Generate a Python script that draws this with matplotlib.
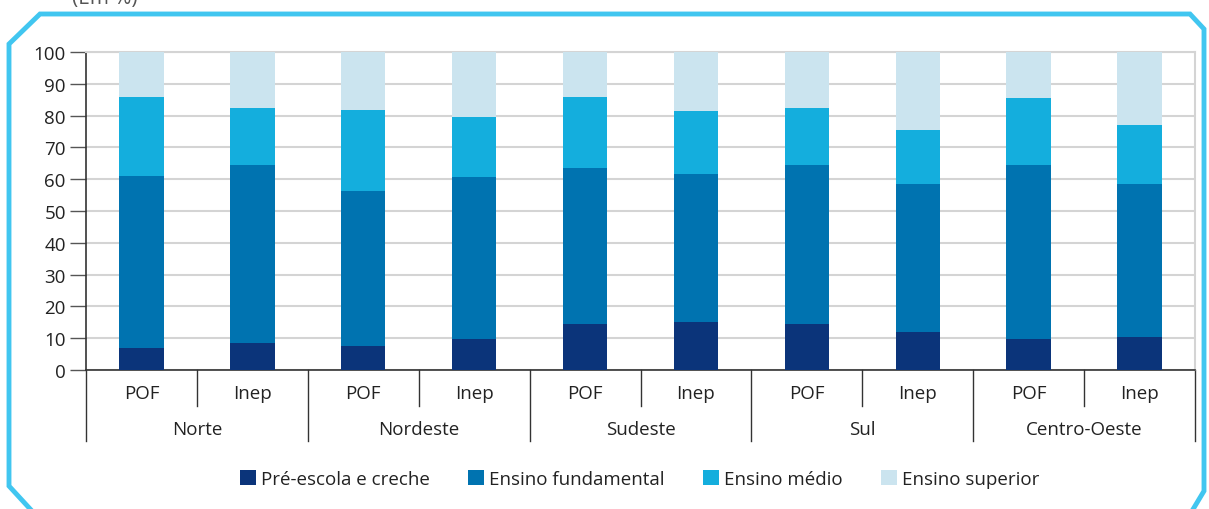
import matplotlib.pyplot as plt
import matplotlib.transforms as mtransforms
from matplotlib.lines import Line2D
from matplotlib.patches import Patch
import numpy as np

plt.rcParams['font.family'] = ['Open Sans', 'DejaVu Sans']

regions = ['Norte', 'Nordeste', 'Sudeste', 'Sul', 'Centro-Oeste']
sources = ['POF', 'Inep']
series = ['Pré-escola e creche', 'Ensino fundamental', 'Ensino médio', 'Ensino superior']

# order: Norte POF, Norte Inep, Nordeste POF, ... (em %)
pre_escola = [7.0, 8.4, 7.6, 9.7, 14.4, 15.0, 14.5, 11.9, 9.9, 10.3]
fundamental = [54.0, 56.0, 48.6, 50.9, 49.2, 46.7, 50.1, 46.5, 54.6, 48.2]
medio = [25.0, 17.9, 25.5, 19.1, 22.1, 19.7, 17.7, 17.0, 20.9, 18.7]
superior = [14.0, 17.7, 18.3, 20.3, 14.3, 18.6, 17.7, 24.6, 14.6, 22.8]

colors = ['#0b347a', '#0073b0', '#14aedd', '#cbe4ef']
fs = 13.5

fig = plt.figure(figsize=(12.09, 5.10), dpi=100)
ax = fig.add_axes([86 / 1209, 1 - 371 / 510, (1195 - 86) / 1209, (371 - 53) / 510])

x = np.arange(10) + 0.5
bottom = np.zeros(10)
for vals, c in zip([pre_escola, fundamental, medio, superior], colors):
    ax.bar(x, vals, width=0.4, bottom=bottom, color=c, zorder=3)
    bottom += np.array(vals)

ax.set_xlim(0, 10)
ax.set_ylim(0, 100)
ax.set_yticks(range(0, 101, 10))
ax.tick_params(axis='y', length=11.5, width=1, color='#555555', labelsize=fs, pad=3,
               labelcolor='#222222')
ax.set_xticks([])
ax.grid(axis='y', color='#d4d4d4', linewidth=1.5, zorder=0)
ax.set_axisbelow(True)
for s in ['top', 'right']:
    ax.spines[s].set_color('#d4d4d4')
    ax.spines[s].set_linewidth(1.5)
for s in ['left', 'bottom']:
    ax.spines[s].set_color('#333333')
    ax.spines[s].set_linewidth(1.2)

# categorical axis below the plot
trans = mtransforms.blended_transform_factory(ax.transData, ax.transAxes)
for i in range(11):
    depth = -0.223 if i % 2 == 0 else -0.113
    ax.plot([i, i], [0, depth], color='#333333', lw=1, transform=trans, clip_on=False)
for i in range(10):
    ax.text(i + 0.5, -0.072, sources[i % 2], transform=trans, ha='center', va='center',
            fontsize=fs, color='#222222')
for j, r in enumerate(regions):
    ax.text(2 * j + 1, -0.186, r, transform=trans, ha='center', va='center',
            fontsize=fs, color='#222222')

handles = [Patch(facecolor=c, edgecolor='none') for c in colors]
leg = fig.legend(handles, series, loc='center', bbox_to_anchor=(640 / 1209, 1 - 480 / 510), ncol=4,
                 frameon=False, fontsize=fs, handlelength=0.85, handleheight=0.85,
                 handletextpad=0.27, columnspacing=2.05)
for t in leg.get_texts():
    t.set_color('#222222')

# cyan frame with chamfered corners
W, H = 1209, 510
frame_x = [32, 9, 9, 40, 1190, 1204, 1204, 1192]
frame_y = [512, 487, 45, 15, 15, 30, 492, 512]
fig.add_artist(Line2D([v / W for v in frame_x], [1 - v / H for v in frame_y],
                      transform=fig.transFigure, color='#41c6f0', lw=3.5,
                      solid_joinstyle='miter'))

fig.text(72 / W, 1 - 4 / H, '(Em %)', fontsize=15, color='#555555', va='baseline')

fig.savefig('out.png', dpi=100)
